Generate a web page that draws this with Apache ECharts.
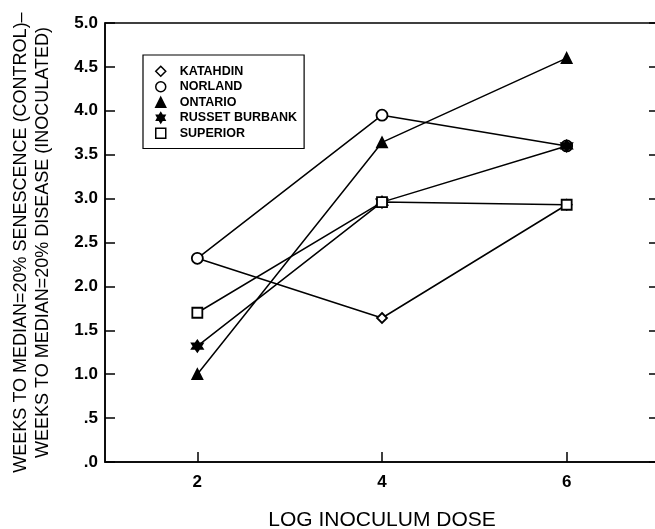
<!DOCTYPE html>
<html>
<head>
<meta charset="utf-8">
<script src="https://cdn.jsdelivr.net/npm/echarts@6/dist/echarts.min.js"></script>
<style>html,body{margin:0;padding:0;background:#fff}#c{width:655px;height:529px}</style>
</head>
<body>
<div id="c"></div>
<script>
const xValues = [2, 4, 6];
const seriesNames = ['KATAHDIN', 'NORLAND', 'ONTARIO', 'RUSSET BURBANK', 'SUPERIOR'];
const katahdin = [2.32, 1.64, 2.93];
const norland = [2.32, 3.95, 3.60];
const ontario = [1.00, 3.64, 4.60];
const russetBurbank = [1.32, 2.96, 3.60];
const superior = [1.70, 2.96, 2.93];
const yTickValues = [0, 0.5, 1, 1.5, 2, 2.5, 3, 3.5, 4, 4.5, 5];
const yTickLabels = ['.0', '.5', '1.0', '1.5', '2.0', '2.5', '3.0', '3.5', '4.0', '4.5', '5.0'];
const xTickLabels = ['2', '4', '6'];

function starPath(n) {
  let p = '';
  for (let i = 0; i < 2 * n; i++) {
    const r = i % 2 === 0 ? 10 : 6;
    const a = Math.PI * i / n - Math.PI / 2;
    p += (i === 0 ? 'M' : 'L') + (r * Math.cos(a)).toFixed(2) + ',' + (r * Math.sin(a)).toFixed(2);
  }
  return 'path://' + p + 'Z';
}
const star = starPath(6);

const styles = [
  {symbol: 'diamond', size: 10, fill: '#fff'},
  {symbol: 'circle', size: 11, fill: '#fff'},
  {symbol: 'triangle', size: 10, fill: '#000'},
  {symbol: star, size: 11, fill: '#000'},
  {symbol: 'rect', size: 10, fill: '#fff'}
];
const allData = [katahdin, norland, ontario, russetBurbank, superior];

const series = allData.map((arr, k) => ({
  name: seriesNames[k],
  type: 'line',
  data: xValues.map((x, i) => [x, arr[i]]),
  symbol: styles[k].symbol,
  symbolSize: styles[k].size,
  showAllSymbol: true,
  lineStyle: {color: '#000', width: 1.5},
  itemStyle: {color: styles[k].fill, borderColor: '#000', borderWidth: 1.8, opacity: 1},
  z: 2 + k
}));

const chart = echarts.init(document.getElementById('c'), null, {renderer: 'canvas'});
chart.setOption({
  animation: false,
  backgroundColor: '#fff',
  grid: {left: 105, top: 23, right: -4, bottom: 67, show: true, borderColor: '#000', borderWidth: 1.5,
    containLabel: false, outerBoundsMode: 'none'},
  legend: {
    orient: 'vertical',
    left: 143, top: 55,
    padding: [9, 7, 8, 12],
    itemGap: 1,
    itemWidth: 10, itemHeight: 10,
    borderColor: '#000', borderWidth: 1.2,
    textStyle: {fontFamily: 'Liberation Sans', fontSize: 12.5, fontWeight: 'bold', color: '#000',
      padding: [0, 0, 0, 9], lineHeight: 14.5},
    data: seriesNames.map((n, k) => ({
      name: n,
      icon: styles[k].symbol,
      itemStyle: {color: styles[k].fill, borderColor: '#000', borderWidth: 1.5}
    }))
  },
  xAxis: {
    type: 'value', min: 1, max: 7, interval: 1,
    axisLine: {show: true, lineStyle: {color: '#000', width: 1.5}},
    axisTick: {show: true, inside: true, length: 10, lineStyle: {color: '#000', width: 1.5},
      customValues: xValues},
    axisLabel: {
      customValues: xValues,
      formatter: v => xTickLabels[xValues.indexOf(v)],
      fontFamily: 'Liberation Sans', fontSize: 17, fontWeight: 'bold', color: '#000', margin: 12
    },
    splitLine: {show: false},
    name: 'LOG INOCULUM DOSE', nameLocation: 'middle', nameGap: 48,
    nameTextStyle: {fontFamily: 'Liberation Sans', fontSize: 21, color: '#000'}
  },
  yAxis: [{
    type: 'value', min: 0, max: 5, interval: 0.5,
    axisLine: {show: true, lineStyle: {color: '#000', width: 1.5}},
    axisTick: {show: true, inside: true, length: 10, lineStyle: {color: '#000', width: 1.5}},
    axisLabel: {
      formatter: v => yTickLabels[yTickValues.indexOf(Math.round(v * 10) / 10)],
      fontFamily: 'Liberation Sans', fontSize: 17, fontWeight: 'bold', color: '#000', margin: 7
    },
    splitLine: {show: false},
    name: 'WEEKS TO MEDIAN=20% SENESCENCE (CONTROL)–\nWEEKS TO MEDIAN=20% DISEASE (INOCULATED)',
    nameLocation: 'middle', nameGap: 51, nameRotate: 90,
    nameTextStyle: {fontFamily: 'Liberation Sans', fontSize: 18, color: '#000', lineHeight: 22}
  }, {
    type: 'value', min: 0, max: 5, interval: 0.5, position: 'right',
    axisLine: {show: true, lineStyle: {color: '#000', width: 1.5}},
    axisTick: {show: true, inside: true, length: 10, lineStyle: {color: '#000', width: 1.5}},
    axisLabel: {show: false},
    splitLine: {show: false}
  }],
  series: series
});
</script>
</body>
</html>
